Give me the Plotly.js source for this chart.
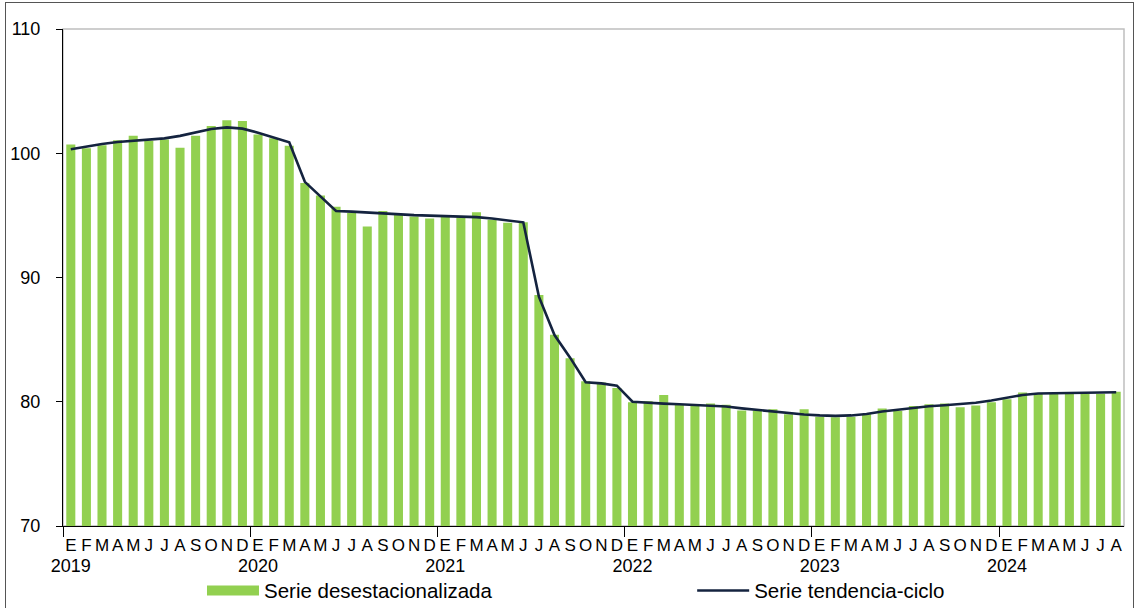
<!DOCTYPE html>
<html>
<head>
<meta charset="utf-8">
<script src="https://cdn.plot.ly/plotly-3.0.1.min.js"></script>
<style>
html,body{margin:0;padding:0;background:#fff;}
#wrap{position:relative;width:1136px;height:608px;overflow:hidden;}
#chart{position:absolute;left:0;top:0;width:1136px;height:608px;}
#frame{position:absolute;left:5px;top:2px;width:1127px;height:620px;border:1.5px solid #555;pointer-events:none;}
</style>
</head>
<body>
<div id="wrap"><div id="chart"></div><div id="frame"></div></div>
<script>
const years = ['2019','2020','2021','2022','2023','2024'];
const monthLetters = ['E','F','M','A','M','J','J','A','S','O','N','D'];
const months = [
 'E','F','M','A','M','J','J','A','S','O','N','D',
 'E','F','M','A','M','J','J','A','S','O','N','D',
 'E','F','M','A','M','J','J','A','S','O','N','D',
 'E','F','M','A','M','J','J','A','S','O','N','D',
 'E','F','M','A','M','J','J','A','S','O','N','D',
 'E','F','M','A','M','J','J','A'
];
const desestacionalizada = [
 100.7, 100.4, 100.65, 101.05, 101.4, 101.0, 101.1, 100.45, 101.4, 102.2, 102.65, 102.6,
 101.5, 101.2, 100.6, 97.6, 96.6, 95.7, 95.2, 94.1, 95.35, 95.1, 94.9, 94.75,
 94.9, 94.85, 95.25, 94.65, 94.4, 94.45, 88.6, 85.4, 83.5, 81.65, 81.55, 81.1,
 79.95, 80.05, 80.55, 79.75, 79.65, 79.85, 79.75, 79.3, 79.3, 79.4, 79.0, 79.4,
 78.8, 78.75, 78.8, 79.0, 79.45, 79.25, 79.65, 79.8, 79.85, 79.55, 79.7, 79.95,
 80.2, 80.75, 80.7, 80.65, 80.65, 80.65, 80.65, 80.8
];
const tendenciaCiclo = [
 100.32, 100.55, 100.75, 100.9, 101.0, 101.08, 101.2, 101.4, 101.65, 101.95, 102.08, 101.98,
 101.65, 101.28, 100.88, 97.7, 96.5, 95.35, 95.3, 95.22, 95.15, 95.08, 95.02, 94.98,
 94.95, 94.92, 94.86, 94.75, 94.6, 94.44, 88.46, 85.37, 83.55, 81.57, 81.48, 81.3,
 80.0, 79.9, 79.85, 79.8, 79.75, 79.7, 79.62, 79.47, 79.35, 79.2, 79.07, 78.97,
 78.9, 78.86, 78.9, 79.02, 79.22, 79.36, 79.55, 79.64, 79.72, 79.8, 79.92, 80.1,
 80.3, 80.55, 80.66, 80.68, 80.68, 80.68, 80.7, 80.76
];
const seriesNames = ['Serie desestacionalizada', 'Serie tendencia-ciclo'];

const idx = months.map((m, i) => i);
const yearStart = years.map((y, k) => k * monthLetters.length);
const FONT = '"Liberation Sans", Arial, sans-serif';
const GREEN = '#92D050';
const NAVY = '#14233F';
const xr = [-0.5, months.length - 0.5];

const traces = [
  {type: 'bar', x: idx, y: desestacionalizada, marker: {color: GREEN}, showlegend: false, name: seriesNames[0], xaxis: 'x', yaxis: 'y'},
  {type: 'scatter', mode: 'lines', x: [null], y: [null], name: seriesNames[0], line: {color: GREEN, width: 16}, showlegend: true, legend: 'legend', xaxis: 'x', yaxis: 'y'},
  {type: 'scatter', mode: 'lines', x: idx, y: tendenciaCiclo, name: seriesNames[1], line: {color: NAVY, width: 2.6}, showlegend: true, legend: 'legend2', xaxis: 'x2', yaxis: 'y'}
];

const legendBase = {orientation: 'h', xanchor: 'left', y: -0.13, yanchor: 'middle',
  font: {family: FONT, size: 20.5, color: '#000'}, itemwidth: 52, bgcolor: 'rgba(0,0,0,0)'};

const layout = {
  width: 1136, height: 608,
  margin: {l: 63, r: 12, t: 29, b: 82, autoexpand: false},
  paper_bgcolor: '#fff', plot_bgcolor: '#fff',
  font: {family: FONT, size: 18, color: '#000'},
  bargap: 0.42,
  showlegend: true,
  legend: Object.assign({}, legendBase, {x: 0.131}),
  legend2: Object.assign({}, legendBase, {x: 0.593}),
  xaxis: {range: xr, tickmode: 'array', tickvals: idx, ticktext: months, ticks: '',
          showgrid: false, zeroline: false, showline: true, linecolor: '#000', linewidth: 1,
          tickfont: {family: FONT, size: 17, color: '#000'}, ticklabelstandoff: 4,
          minor: {tick0: -0.5, dtick: 12, ticks: 'outside', ticklen: 10, tickcolor: '#000', tickwidth: 1, showgrid: false}},
  xaxis2: {range: xr, overlaying: 'x', anchor: 'y', side: 'bottom', tickmode: 'array', tickvals: yearStart, ticktext: years,
           ticks: '', showgrid: false, zeroline: false, showline: false,
           tickfont: {family: FONT, size: 18, color: '#000'}, ticklabelstandoff: 27},
  yaxis: {range: [70, 110], dtick: 10, tick0: 70, ticks: 'outside', ticklen: 6, tickcolor: '#000',
          showgrid: false, zeroline: false, showline: true, linecolor: '#000', linewidth: 1,
          tickfont: {family: FONT, size: 18, color: '#000'}, ticklabelstandoff: 12},
  shapes: [{type: 'rect', xref: 'paper', yref: 'paper', x0: 0, x1: 1, y0: 0, y1: 1,
            line: {color: '#BFBFBF', width: 1.5}, layer: 'below'}]
};

Plotly.newPlot('chart', traces, layout, {displayModeBar: false, staticPlot: true});
</script>
</body>
</html>
